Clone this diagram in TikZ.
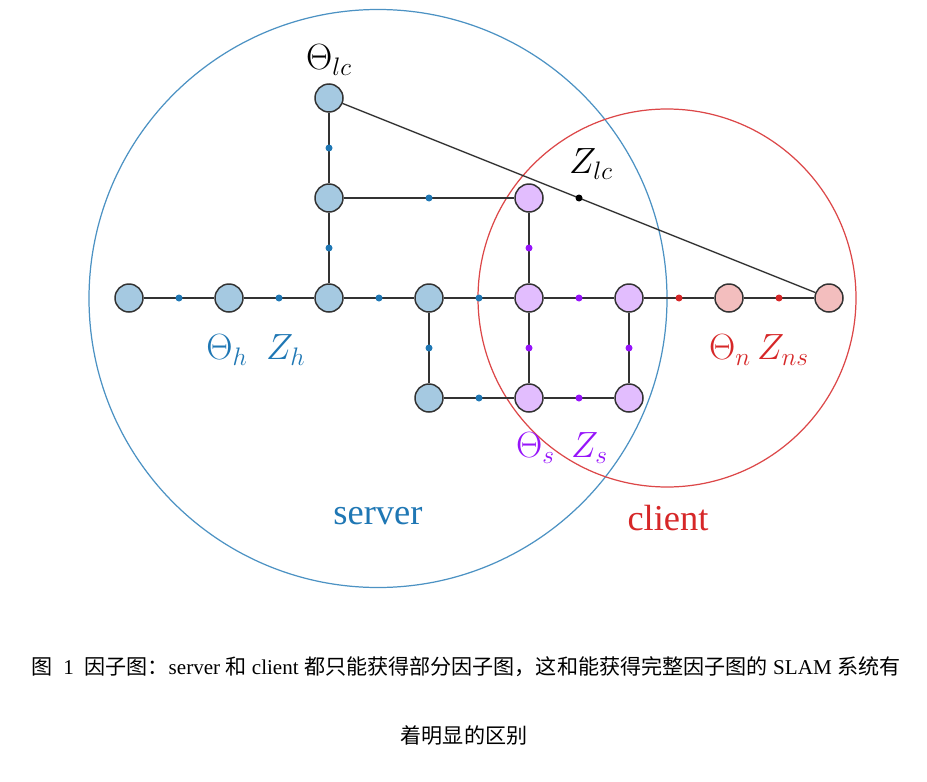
\documentclass[tikz,border=0pt]{standalone}
\usepackage{fontspec}
\setmainfont{Liberation Serif}
\newfontfamily\cjk{Noto Sans CJK SC}
\usepackage{tikz}
\usetikzlibrary{positioning}
\definecolor{srvblue}{RGB}{31,119,180}
\definecolor{clired}{RGB}{214,39,40}
\definecolor{shpurple}{RGB}{150,20,250}
\definecolor{edgegray}{RGB}{51,51,51}

\begin{document}
\begin{tikzpicture}[node distance=2cm, on grid,
  var/.style={circle, draw=edgegray, line width=0.85pt, minimum size=5.6mm, inner sep=0pt},
  hvar/.style={var, fill=srvblue!40},
  svar/.style={var, fill=shpurple!28},
  nvar/.style={var, fill=clired!30},
  fac/.style={circle, fill=#1, minimum size=1.4mm, inner sep=0pt},
  edge/.style={edgegray, line width=0.85pt},
  lbl/.style={font=\huge}]
  \useasboundingbox (0,0) rectangle (18.54,-15.62);

  % server / client areas
  \node[circle, draw=srvblue!80, line width=0.7pt, minimum size=11.56cm, inner sep=0pt] (srv) at (7.56,-5.97) {};
  \node[circle, draw=clired!85, line width=0.7pt, minimum size=7.56cm, inner sep=0pt] (cli) at (13.34,-5.96) {};

  % variables
  \node[hvar] (h1) at (2.58,-5.96) {};
  \node[hvar, right=of h1] (h2) {};
  \node[hvar, right=of h2] (h3) {};
  \node[hvar, right=of h3] (h4) {};
  \node[svar, right=of h4] (s1) {};
  \node[svar, right=of s1] (s2) {};
  \node[nvar, right=of s2] (n1) {};
  \node[nvar, right=of n1] (n2) {};
  \node[hvar, above=of h3] (h5) {};
  \node[hvar, above=of h5] (lc) {};
  \node[svar, above=of s1] (s3) {};
  \node[hvar, below=of h4] (h6) {};
  \node[svar, below=of s1] (s4) {};
  \node[svar, below=of s2] (s5) {};

  % factors
  \foreach \a/\b/\c in {h1/h2/srvblue, h2/h3/srvblue, h3/h4/srvblue, h4/s1/srvblue,
      lc/h5/srvblue, h5/h3/srvblue, h5/s3/srvblue, h4/h6/srvblue, h6/s4/srvblue,
      s3/s1/shpurple, s1/s2/shpurple, s1/s4/shpurple, s2/s5/shpurple, s4/s5/shpurple,
      s2/n1/clired, n1/n2/clired}
    \draw[edge] (\a) -- node[fac=\c]{} (\b);
  \draw[edge, line width=0.75pt] (lc) -- node[fac=black] (zlc) {} (n2);

  % labels
  \node[lbl, above=0.76cm of lc] (tlc) {$\Theta_{lc}$};
  \node[lbl, above=0.68cm of zlc, xshift=0.24cm] (tzlc) {$Z_{lc}$};
  \node[lbl, text=srvblue] (th) at (5.12,-7.0) {$\Theta_h\ \ Z_h$};
  \node[lbl, text=shpurple] (ts) at (11.24,-8.96) {$\Theta_s\;\,Z_s$};
  \node[lbl, text=clired] (tn) at (15.18,-7.0) {$\Theta_n\,Z_{ns}$};
  \node[lbl, text=srvblue] (lsrv) at (7.56,-10.32) {server};
  \node[lbl, text=clired] (lcli) at (13.36,-10.36) {client};

  % caption
  \node[font=\fontsize{12}{14}\selectfont] (cap1) at (9.32,-13.34)
    {{\cjk 图}\ \ 1\ \ {\cjk 因子图：}server {\cjk 和} client {\cjk 都只能获得部分因子图，这和能获得完整因子图的} SLAM {\cjk 系统有}};
  \node[font=\fontsize{12}{14}\selectfont] (cap2) at (9.28,-14.7) {\cjk 着明显的区别};
\end{tikzpicture}
\end{document}
